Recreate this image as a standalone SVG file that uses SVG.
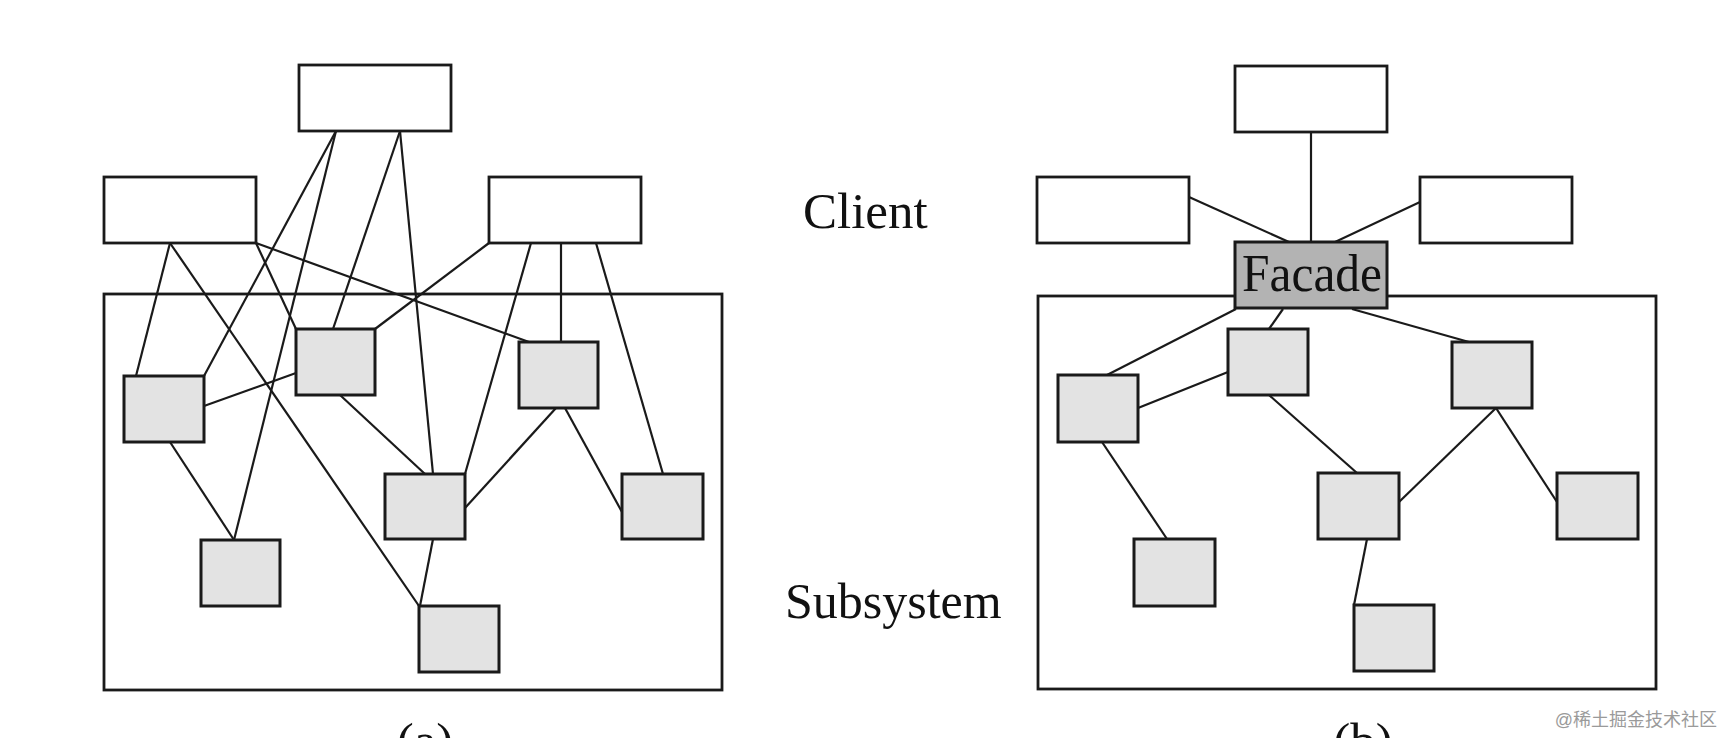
<svg xmlns="http://www.w3.org/2000/svg" width="1724" height="738" viewBox="0 0 1724 738">
<style>
.client{fill:#fff;stroke:#1a1a1a;stroke-width:2.8}
.sub{fill:#e3e3e3;stroke:#1a1a1a;stroke-width:3}
.frame{fill:none;stroke:#1a1a1a;stroke-width:2.8}
.facade{fill:#b3b3b3;stroke:#1a1a1a;stroke-width:3}
.conn line{stroke:#1a1a1a;stroke-width:2.2}
.lbl{font-family:"Liberation Serif","Times New Roman",serif;font-size:51px;fill:#111}
.wm{font-family:"Liberation Sans","Noto Sans CJK SC",sans-serif;font-size:18px;fill:#9a9a9a}
</style>
<rect width="1724" height="738" fill="#fff"/>

<!-- Diagram (a) -->
<g id="a-subsystem-frame"><rect class="frame" x="104" y="294" width="618" height="396"/></g>

<g id="a-connectors" class="conn">
<line x1="336" y1="131" x2="204" y2="376"/>
<line x1="336" y1="131" x2="234" y2="540"/>
<line x1="400" y1="131" x2="333" y2="329"/>
<line x1="400" y1="131" x2="433" y2="474"/>
<line x1="170" y1="243" x2="136" y2="376"/>
<line x1="170" y1="243" x2="419" y2="606"/>
<line x1="256" y1="243" x2="296" y2="329"/>
<line x1="256" y1="243" x2="529" y2="342"/>
<line x1="489" y1="243" x2="375" y2="329"/>
<line x1="531" y1="243" x2="465" y2="474"/>
<line x1="561" y1="243" x2="561" y2="342"/>
<line x1="596" y1="243" x2="663" y2="474"/>
<line x1="204" y1="406" x2="296" y2="373"/>
<line x1="170" y1="442" x2="234" y2="540"/>
<line x1="340" y1="395" x2="425" y2="474"/>
<line x1="465" y1="508" x2="556" y2="408"/>
<line x1="565" y1="408" x2="622" y2="512"/>
<line x1="433" y1="539" x2="420" y2="606"/>
</g>

<g id="a-client-top"><rect class="client" x="299" y="65" width="152" height="66"/></g>
<g id="a-client-left"><rect class="client" x="104" y="177" width="152" height="66"/></g>
<g id="a-client-right"><rect class="client" x="489" y="177" width="152" height="66"/></g>

<g id="a-sub-1"><rect class="sub" x="124" y="376" width="80" height="66"/></g>
<g id="a-sub-2"><rect class="sub" x="296" y="329" width="79" height="66"/></g>
<g id="a-sub-3"><rect class="sub" x="519" y="342" width="79" height="66"/></g>
<g id="a-sub-4"><rect class="sub" x="385" y="474" width="80" height="65"/></g>
<g id="a-sub-5"><rect class="sub" x="622" y="474" width="81" height="65"/></g>
<g id="a-sub-6"><rect class="sub" x="201" y="540" width="79" height="66"/></g>
<g id="a-sub-7"><rect class="sub" x="419" y="606" width="80" height="66"/></g>

<!-- Diagram (b) -->
<g id="b-subsystem-frame"><rect class="frame" x="1038" y="296" width="618" height="393"/></g>

<g id="b-connectors" class="conn">
<line x1="1311" y1="132" x2="1311" y2="242"/>
<line x1="1189" y1="197" x2="1289" y2="242"/>
<line x1="1420" y1="202" x2="1335" y2="242"/>
<line x1="1236" y1="309" x2="1107" y2="375"/>
<line x1="1283" y1="309" x2="1269" y2="329"/>
<line x1="1352" y1="309" x2="1469" y2="342"/>
<line x1="1138" y1="408" x2="1228" y2="372"/>
<line x1="1102" y1="442" x2="1167" y2="539"/>
<line x1="1269" y1="395" x2="1357" y2="473"/>
<line x1="1399" y1="502" x2="1496" y2="408"/>
<line x1="1496" y1="408" x2="1557" y2="502"/>
<line x1="1367" y1="539" x2="1354" y2="605"/>
</g>

<g id="b-client-top"><rect class="client" x="1235" y="66" width="152" height="66"/></g>
<g id="b-client-left"><rect class="client" x="1037" y="177" width="152" height="66"/></g>
<g id="b-client-right"><rect class="client" x="1420" y="177" width="152" height="66"/></g>

<g id="b-facade">
<rect class="facade" x="1235" y="242" width="152" height="66"/>
<text class="lbl" x="1242" y="291" style="font-size:52px" textLength="140" lengthAdjust="spacingAndGlyphs">Facade</text>
</g>

<g id="b-sub-1"><rect class="sub" x="1058" y="375" width="80" height="67"/></g>
<g id="b-sub-2"><rect class="sub" x="1228" y="329" width="80" height="66"/></g>
<g id="b-sub-3"><rect class="sub" x="1452" y="342" width="80" height="66"/></g>
<g id="b-sub-4"><rect class="sub" x="1318" y="473" width="81" height="66"/></g>
<g id="b-sub-5"><rect class="sub" x="1557" y="473" width="81" height="66"/></g>
<g id="b-sub-6"><rect class="sub" x="1134" y="539" width="81" height="67"/></g>
<g id="b-sub-7"><rect class="sub" x="1354" y="605" width="80" height="66"/></g>

<!-- Labels -->
<g id="labels">
<text class="lbl" x="803" y="228">Client</text>
<text class="lbl" x="785" y="618" style="font-size:50px">Subsystem</text>
<text class="lbl" x="425" y="758" text-anchor="middle">(a)</text>
<text class="lbl" x="1363" y="758" text-anchor="middle">(b)</text>
<text class="wm" x="1717" y="726" text-anchor="end">@稀土掘金技术社区</text>
</g>
</svg>
